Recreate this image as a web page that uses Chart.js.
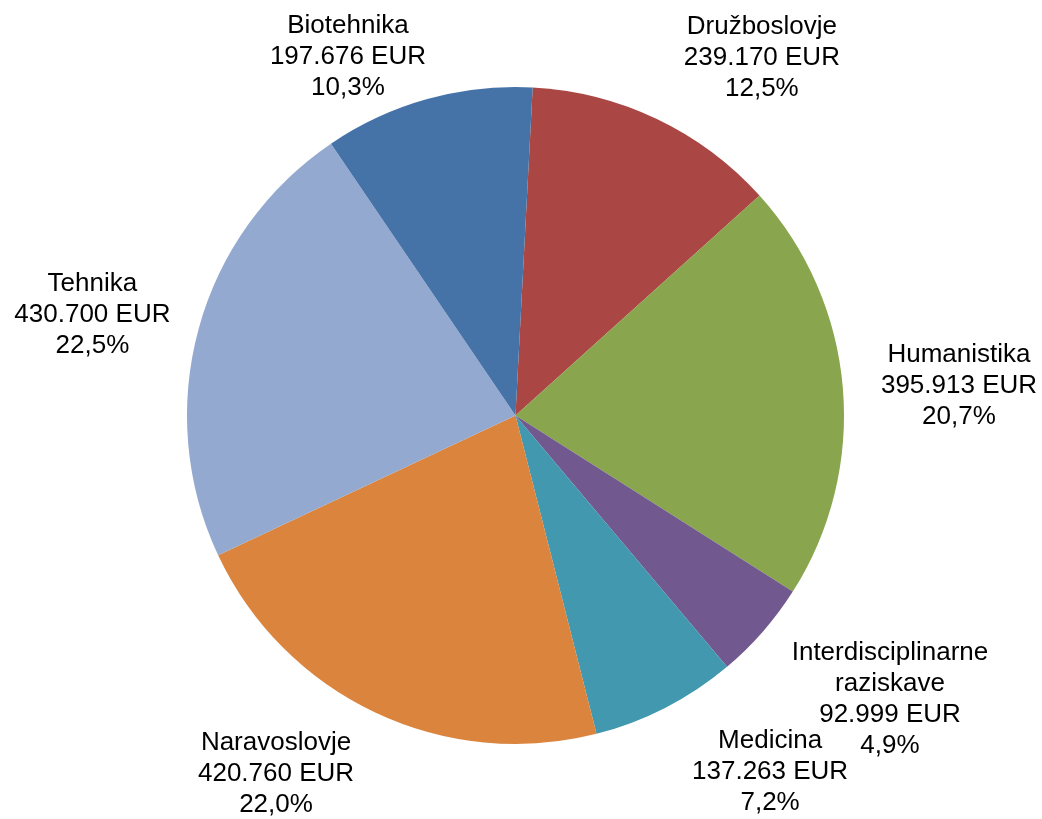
<!DOCTYPE html>
<html>
<head>
<meta charset="utf-8">
<script src="https://cdn.jsdelivr.net/npm/chart.js@4/dist/chart.umd.min.js"></script>
<style>
  html, body { margin: 0; padding: 0; background: #fff; }
  #wrap { width: 1042px; height: 819px; position: relative; }
</style>
</head>
<body>
<div id="wrap"><canvas id="pie"></canvas></div>
<script>
// ---- Data ----
const categories = [
  "Družboslovje",
  "Humanistika",
  ["Interdisciplinarne", "raziskave"],
  "Medicina",
  "Naravoslovje",
  "Tehnika",
  "Biotehnika"
];
const amountsEur = [239170, 395913, 92999, 137263, 420760, 430700, 197676];
const sliceColors = ["#AA4643", "#89A54E", "#71588F", "#4198AF", "#DB843D", "#93A9CF", "#4572A7"];

// label block centres, in pie radii from the pie centre (Excel's placement)
const labelOffset = [
  [0.750, -1.090],
  [1.350, -0.091],
  [1.140, 0.864],
  [0.775, 1.084],
  [-0.729, 1.090],
  [-1.288, -0.307],
  [-0.510, -1.092]
];

// ---- Helpers ----
function fmtEur(v) {
  return String(v).replace(/\B(?=(\d{3})+(?!\d))/g, ".") + " EUR";
}

function fmtPct(v, total) {
  return (v / total * 100).toFixed(1).replace(".", ",") + "%";
}

// draws the outside labels, relative to the arc geometry
const outsideLabels = {
  id: "outsideLabels",
  afterDatasetsDraw(chart) {
    const ctx = chart.ctx;
    const meta = chart.getDatasetMeta(0);
    const data = chart.data.datasets[0].data;
    const total = data.reduce((a, b) => a + b, 0);
    const lineH = 31;

    ctx.save();
    ctx.font = "26px 'Liberation Sans', Arial, sans-serif";
    ctx.fillStyle = "#000";
    ctx.textAlign = "center";
    ctx.textBaseline = "middle";

    meta.data.forEach((arc, i) => {
      const r = arc.outerRadius;
      const cx = arc.x + labelOffset[i][0] * r;
      const cy = arc.y + labelOffset[i][1] * r;
      const name = chart.data.labels[i];
      const lines = [].concat(name, fmtEur(data[i]), fmtPct(data[i], total));
      lines.forEach((t, k) => {
        ctx.fillText(t, cx, cy + (k - (lines.length - 1) / 2) * lineH);
      });
    });
    ctx.restore();
  }
};

const whiteBg = {
  id: "whiteBg",
  beforeDraw(chart) {
    const ctx = chart.ctx;
    ctx.save();
    ctx.fillStyle = "#fff";
    ctx.fillRect(0, 0, chart.width, chart.height);
    ctx.restore();
  }
};

// ---- Chart.js ----
new Chart(document.getElementById("pie"), {
  type: "pie",
  data: {
    labels: categories,
    datasets: [{
      data: amountsEur,
      backgroundColor: sliceColors,
      borderWidth: 0
    }]
  },
  options: {
    responsive: true,
    maintainAspectRatio: false,
    animation: false,
    rotation: 3,
    layout: { padding: { left: 187, right: 198, top: 87, bottom: 75 } },
    plugins: {
      legend: { display: false },
      tooltip: { enabled: false }
    }
  },
  plugins: [whiteBg, outsideLabels]
});
</script>
</body>
</html>
